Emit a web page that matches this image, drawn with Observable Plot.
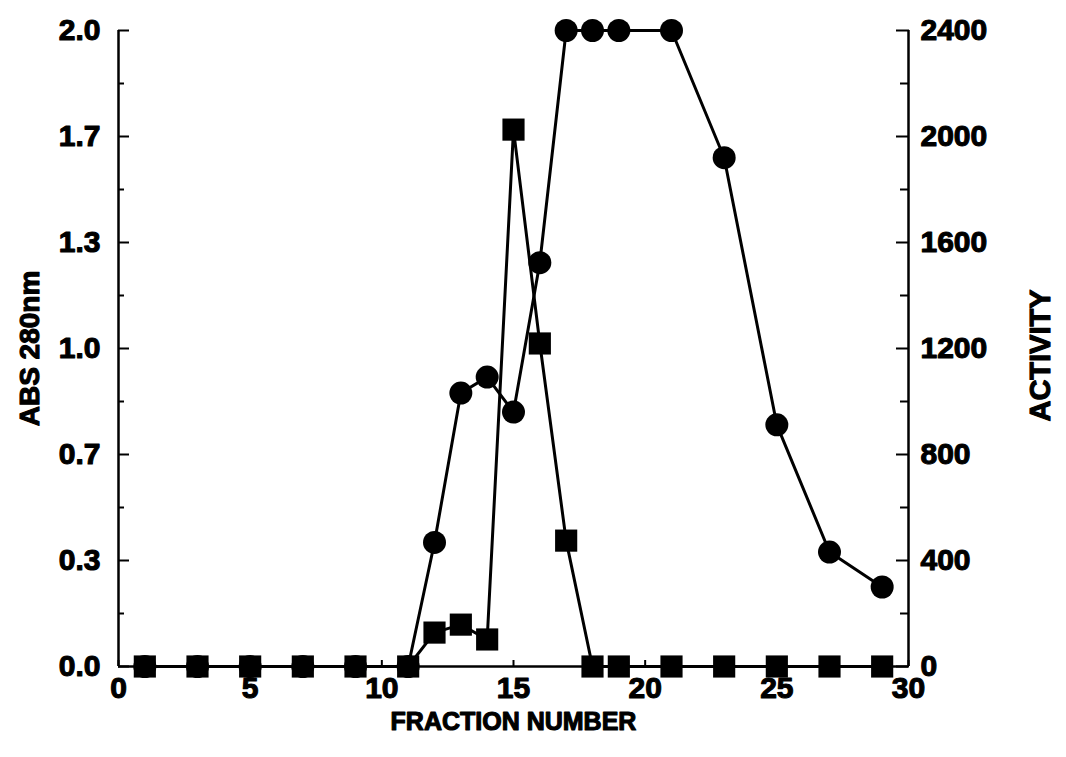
<!DOCTYPE html>
<html>
<head>
<meta charset="utf-8">
<script src="https://cdn.jsdelivr.net/npm/d3@7"></script>
<script src="https://cdn.jsdelivr.net/npm/@observablehq/plot@0.6"></script>
<style>
  html, body { margin: 0; padding: 0; background: #fff; }
  #chart { width: 1066px; height: 757px; }
</style>
</head>
<body>
<div id="chart"></div>
<script>
// Fractions and values
const absFractions = [1, 3, 5, 7, 9, 11, 12, 13, 14, 15, 16, 17, 18, 19, 21, 23, 25, 27, 29];
const absValues    = [0, 0, 0, 0, 0, 0, 0.39, 0.86, 0.91, 0.80, 1.27, 2.0, 2.0, 2.0, 2.0, 1.60, 0.76, 0.36, 0.25];

const actFractions = [1, 3, 5, 7, 9, 11, 12, 13, 14, 15, 16, 17, 18, 19, 21, 23, 25, 27, 29];
const actValues    = [0, 0, 0, 0, 0, 0, 128, 158, 102, 2026, 1219, 475, 0, 0, 0, 0, 0, 0, 0];

const xTicks = [0, 5, 10, 15, 20, 25, 30];
const leftTicks = [0, 1/3, 2/3, 1, 4/3, 5/3, 2];
const leftTickLabels = ["0.0", "0.3", "0.7", "1.0", "1.3", "1.7", "2.0"];
const rightTickLabels = ["0", "400", "800", "1200", "1600", "2000", "2400"];
const minorTicks = [1/6, 1/2, 5/6, 7/6, 3/2, 11/6];
const activityPerAbs = 1200; // right axis 2400 aligns with left 2.0

const xLabel = "FRACTION NUMBER";
const yLabelLeft = "ABS 280nm";
const yLabelRight = "ACTIVITY";

const absData = absFractions.map((f, i) => ({fraction: f, value: absValues[i]}));
const actData = actFractions.map((f, i) => ({fraction: f, value: actValues[i] / activityPerAbs}));

const font = "'Liberation Sans', Arial, sans-serif";
const bold = "bold";
const heavy = {fontWeight: bold, fill: "#000", textStroke: "#000", textStrokeWidth: 1.1};
const heavyText = {fontWeight: bold, fill: "#000", stroke: "#000", strokeWidth: 1.1};

const chart = Plot.plot({
  width: 1066,
  height: 757,
  marginLeft: 118,
  marginRight: 158,
  marginTop: 30,
  marginBottom: 91,
  style: {fontFamily: font, background: "#fff", color: "#000", overflow: "visible"},
  x: {domain: [0, 30], label: null},
  y: {domain: [0, 2], label: null},
  marks: [
    // axis lines (left, right, bottom)
    Plot.ruleX([0, 30], {stroke: "#000", strokeWidth: 2.5}),
    Plot.ruleY([0], {stroke: "#000", strokeWidth: 2.5}),
    // x ticks (inward) and labels
    Plot.axisX(xTicks, {tickSize: 6, inset: 6, fill: "none", stroke: "#000", strokeWidth: 2, label: null}),
    Plot.axisX(xTicks, {tickSize: 0, tickPadding: 10, fontSize: 30, ...heavy, label: null, tickFormat: d => String(d)}),
    // left y ticks
    Plot.axisY(leftTicks, {anchor: "left", tickSize: 11, inset: 11, fill: "none", stroke: "#000", strokeWidth: 2, label: null}),
    Plot.axisY(minorTicks, {anchor: "left", tickSize: 6, inset: 6, fill: "none", stroke: "#000", strokeWidth: 2, label: null}),
    Plot.axisY(leftTicks, {anchor: "left", tickSize: 0, tickPadding: 18, fontSize: 30, ...heavy, label: null,
      tickFormat: d => leftTickLabels[leftTicks.indexOf(d)]}),
    // right y ticks
    Plot.axisY(leftTicks, {anchor: "right", tickSize: 13, inset: 13, fill: "none", stroke: "#000", strokeWidth: 2, label: null}),
    Plot.axisY(minorTicks, {anchor: "right", tickSize: 9, inset: 9, fill: "none", stroke: "#000", strokeWidth: 2, label: null}),
    Plot.axisY(leftTicks, {anchor: "right", tickSize: 0, tickPadding: 12, fontSize: 30, ...heavy, label: null,
      tickFormat: d => rightTickLabels[leftTicks.indexOf(d)]}),
    // axis titles
    Plot.text([xLabel], {frameAnchor: "bottom", textAnchor: "middle", dy: 63, fontSize: 25, ...heavyText}),
    Plot.text([yLabelLeft], {frameAnchor: "left", textAnchor: "middle", dx: -88, rotate: -90, fontSize: 28, ...heavyText}),
    Plot.text([yLabelRight], {frameAnchor: "right", textAnchor: "middle", dx: 132, dy: 7, rotate: -90, fontSize: 29, ...heavyText}),
    // series: circles (ABS)
    Plot.line(absData, {x: "fraction", y: "value", stroke: "#000", strokeWidth: 3}),
    Plot.dot(absData, {x: "fraction", y: "value", r: 11.5, fill: "#000", stroke: "none"}),
    // series: squares (activity)
    Plot.line(actData, {x: "fraction", y: "value", stroke: "#000", strokeWidth: 3}),
    Plot.dot(actData, {x: "fraction", y: "value", symbol: "square", r: 12.5, fill: "#000", stroke: "none"})
  ]
});
document.getElementById("chart").appendChild(chart);
</script>
</body>
</html>
